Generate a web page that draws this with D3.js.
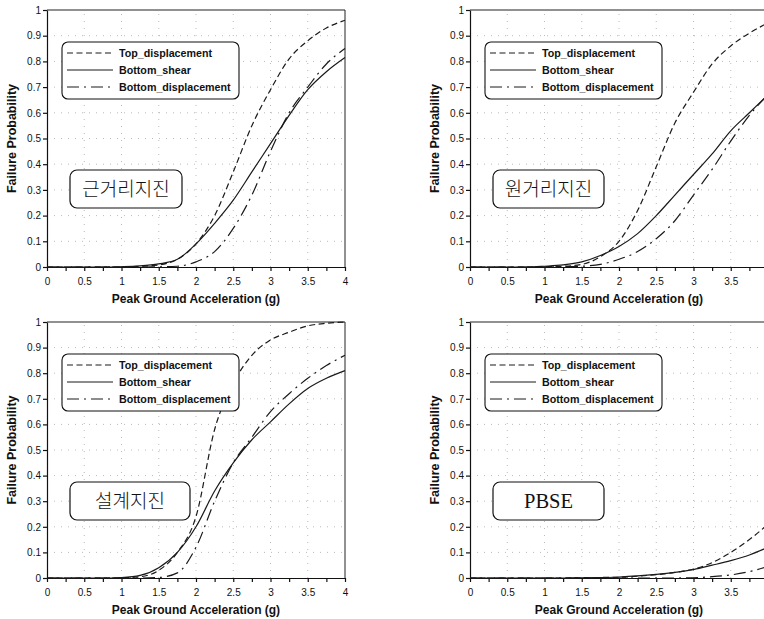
<!DOCTYPE html>
<html>
<head>
<meta charset="utf-8">
<script src="https://cdn.jsdelivr.net/npm/d3@7"></script>
<style>
  body { margin: 0; background: #fff; }
  svg { display: block; font-family: "Liberation Sans", Arial, sans-serif; }
</style>
</head>
<body>
<script>
// PGA sample points (g)
const pga = [0, 0.25, 0.5, 0.75, 1, 1.25, 1.5, 1.75, 2, 2.25, 2.5, 2.75, 3, 3.25, 3.5, 3.75, 4];

// 근거리지진
const nearTop    = [0, 0, 0, 0, 0.001, 0.003, 0.008, 0.03, 0.09, 0.20, 0.37, 0.55, 0.69, 0.81, 0.88, 0.93, 0.96];
const nearShear  = [0, 0, 0, 0, 0.001, 0.004, 0.012, 0.03, 0.09, 0.17, 0.26, 0.37, 0.48, 0.59, 0.69, 0.76, 0.815];
const nearBottom = [0, 0, 0, 0, 0, 0, 0.0005, 0.003, 0.02, 0.06, 0.15, 0.28, 0.45, 0.60, 0.70, 0.79, 0.85];

// 원거리지진
const farTop    = [0, 0, 0, 0, 0.001, 0.003, 0.01, 0.04, 0.10, 0.22, 0.39, 0.56, 0.68, 0.79, 0.86, 0.91, 0.95];
const farShear  = [0, 0, 0, 0, 0.003, 0.008, 0.02, 0.045, 0.08, 0.13, 0.20, 0.28, 0.36, 0.44, 0.53, 0.60, 0.67];
const farBottom = [0, 0, 0, 0, 0, 0.001, 0.003, 0.01, 0.03, 0.06, 0.11, 0.18, 0.28, 0.38, 0.49, 0.59, 0.67];

// 설계지진
const designTop    = [0, 0, 0, 0, 0.001, 0.005, 0.03, 0.10, 0.24, 0.58, 0.76, 0.87, 0.93, 0.96, 0.985, 0.995, 1.0];
const designShear  = [0, 0, 0, 0, 0.002, 0.01, 0.04, 0.10, 0.20, 0.34, 0.45, 0.54, 0.61, 0.68, 0.74, 0.78, 0.81];
const designBottom = [0, 0, 0, 0, 0, 0, 0.002, 0.02, 0.12, 0.30, 0.45, 0.55, 0.65, 0.72, 0.78, 0.83, 0.87];

// PBSE
const pbseTop    = [0, 0, 0, 0, 0, 0, 0.001, 0.002, 0.003, 0.007, 0.013, 0.022, 0.035, 0.06, 0.10, 0.15, 0.21];
const pbseShear  = [0, 0, 0, 0, 0, 0, 0.001, 0.002, 0.004, 0.008, 0.014, 0.022, 0.033, 0.05, 0.068, 0.09, 0.12];
const pbseBottom = [0, 0, 0, 0, 0, 0, 0, 0, 0, 0, 0, 0, 0.001, 0.005, 0.012, 0.025, 0.045];

const panelNames = ["근거리지진", "원거리지진", "설계지진", "PBSE"];
const seriesNames = ["Top_displacement", "Bottom_shear", "Bottom_displacement"];
const xTicks = [0, 0.5, 1, 1.5, 2, 2.5, 3, 3.5, 4];
const yTicks = [0, 0.1, 0.2, 0.3, 0.4, 0.5, 0.6, 0.7, 0.8, 0.9, 1];

const width = 764;
const height = 619;

// line style for each series
const dashes = ["6,3.5", null, "12,5,2,5"];

// right-hand panels run past the page edge, so their "4" label is not shown
const panels = [
    { name: panelNames[0], data: [nearTop, nearShear, nearBottom], left: 47, top: 10, bottom: 267, boxW: 112, lastLabel: true },
    { name: panelNames[1], data: [farTop, farShear, farBottom], left: 470, top: 10, bottom: 267, boxW: 111, lastLabel: false },
    { name: panelNames[2], data: [designTop, designShear, designBottom], left: 47, top: 322, bottom: 578, boxW: 120, lastLabel: true },
    { name: panelNames[3], data: [pbseTop, pbseShear, pbseBottom], left: 470, top: 322, bottom: 578, boxW: 111, lastLabel: false }
];

const svg = d3.select("body").append("svg")
    .attr("width", width)
    .attr("height", height);

panels.forEach(function (p) {
    const x = d3.scaleLinear().domain([0, 4]).range([p.left, p.left + 298]);
    const y = d3.scaleLinear().domain([0, 1]).range([p.bottom, p.top]);
    const g = svg.append("g");

    // faint dotted grid
    g.append("g").selectAll("line")
        .data(yTicks.slice(1, -1))
        .join("line")
        .attr("x1", x(0)).attr("x2", x(4))
        .attr("y1", d => y(d)).attr("y2", d => y(d))
        .attr("stroke", "#aaa").attr("stroke-width", 0.8)
        .attr("stroke-dasharray", "1,6");
    g.append("g").selectAll("line")
        .data(xTicks.slice(1, -1))
        .join("line")
        .attr("x1", d => x(d)).attr("x2", d => x(d))
        .attr("y1", y(0)).attr("y2", y(1))
        .attr("stroke", "#aaa").attr("stroke-width", 0.8)
        .attr("stroke-dasharray", "1,6");

    // frame top and right
    g.append("line")
        .attr("x1", x(0)).attr("x2", x(4)).attr("y1", y(1)).attr("y2", y(1))
        .attr("stroke", "#222").attr("stroke-width", 1);
    g.append("line")
        .attr("x1", x(4)).attr("x2", x(4)).attr("y1", y(0)).attr("y2", y(1))
        .attr("stroke", "#222").attr("stroke-width", 1);

    // axes
    const xAxis = d3.axisBottom(x)
        .tickValues(d3.range(0, 4.01, 0.25))
        .tickFormat(d => ((d * 2) % 1 === 0 && (d < 4 || p.lastLabel)) ? String(d) : "")
        .tickSize(4).tickSizeOuter(0).tickPadding(7);
    g.append("g")
        .attr("transform", "translate(0," + y(0) + ")")
        .call(xAxis)
        .call(a => a.selectAll("text").attr("font-size", 10).attr("font-family", "Liberation Sans").attr("fill", "#111"))
        .call(a => a.selectAll("line, path").attr("stroke", "#111").attr("stroke-width", 1.2));

    const yAxis = d3.axisLeft(y)
        .tickValues(yTicks)
        .tickFormat(d3.format(""))
        .tickSize(4).tickSizeOuter(0).tickPadding(2);
    g.append("g")
        .attr("transform", "translate(" + x(0) + ",0)")
        .call(yAxis)
        .call(a => a.selectAll("text").attr("font-size", 10).attr("font-family", "Liberation Sans").attr("fill", "#111"))
        .call(a => a.selectAll("line, path").attr("stroke", "#111").attr("stroke-width", 1.2));

    // axis titles
    g.append("text")
        .attr("transform", "translate(" + (p.left - 31) + "," + ((p.top + p.bottom) / 2) + ") rotate(-90)")
        .attr("text-anchor", "middle")
        .attr("font-size", 12.5)
        .attr("font-weight", "bold")
        .attr("fill", "#111")
        .text("Failure Probability");
    g.append("text")
        .attr("x", p.left + 149)
        .attr("y", p.bottom + 36)
        .attr("text-anchor", "middle")
        .attr("font-size", 12)
        .attr("font-weight", "bold")
        .attr("fill", "#111")
        .text("Peak Ground Acceleration (g)");

    // curves
    const line = d3.line()
        .x((d, i) => x(pga[i]))
        .y(d => y(d))
        .curve(d3.curveMonotoneX);
    p.data.forEach(function (vals, k) {
        g.append("path")
            .attr("d", line(vals))
            .attr("fill", "none")
            .attr("stroke", "#1a1a1a")
            .attr("stroke-width", 1.2)
            .attr("stroke-dasharray", dashes[k]);
    });

    // legend
    const lx = p.left + 15;
    const ly = p.top + 32;
    const leg = g.append("g");
    leg.append("rect")
        .attr("x", lx).attr("y", ly)
        .attr("width", 177).attr("height", 57)
        .attr("rx", 6)
        .attr("fill", "#fff")
        .attr("stroke", "#111").attr("stroke-width", 1.1);
    seriesNames.forEach(function (name, k) {
        const ey = ly + 11 + k * 17;
        leg.append("line")
            .attr("x1", lx + 5).attr("x2", lx + 51)
            .attr("y1", ey).attr("y2", ey)
            .attr("stroke", "#1a1a1a").attr("stroke-width", 1.2)
            .attr("stroke-dasharray", dashes[k]);
        leg.append("text")
            .attr("x", lx + 57).attr("y", ey + 4)
            .attr("font-size", 10.7)
            .attr("font-weight", "bold")
            .attr("fill", "#111")
            .text(name);
    });

    // earthquake label box
    const bx = p.left + 23;
    const by = p.top + 160;
    g.append("rect")
        .attr("x", bx).attr("y", by)
        .attr("width", p.boxW).attr("height", 38)
        .attr("rx", 7)
        .attr("fill", "#fff")
        .attr("stroke", "#111").attr("stroke-width", 1.2);
    const isLatin = p.name === "PBSE";
    g.append("text")
        .attr("x", bx + p.boxW / 2)
        .attr("y", by + 26)
        .attr("text-anchor", "middle")
        .attr("font-family", isLatin ? "Liberation Serif" : "Noto Sans CJK KR")
        .attr("font-size", isLatin ? 20.5 : 19)
        .attr("font-weight", isLatin ? "normal" : 300)
        .attr("fill", "#111")
        .text(p.name);
});
</script>
</body>
</html>
